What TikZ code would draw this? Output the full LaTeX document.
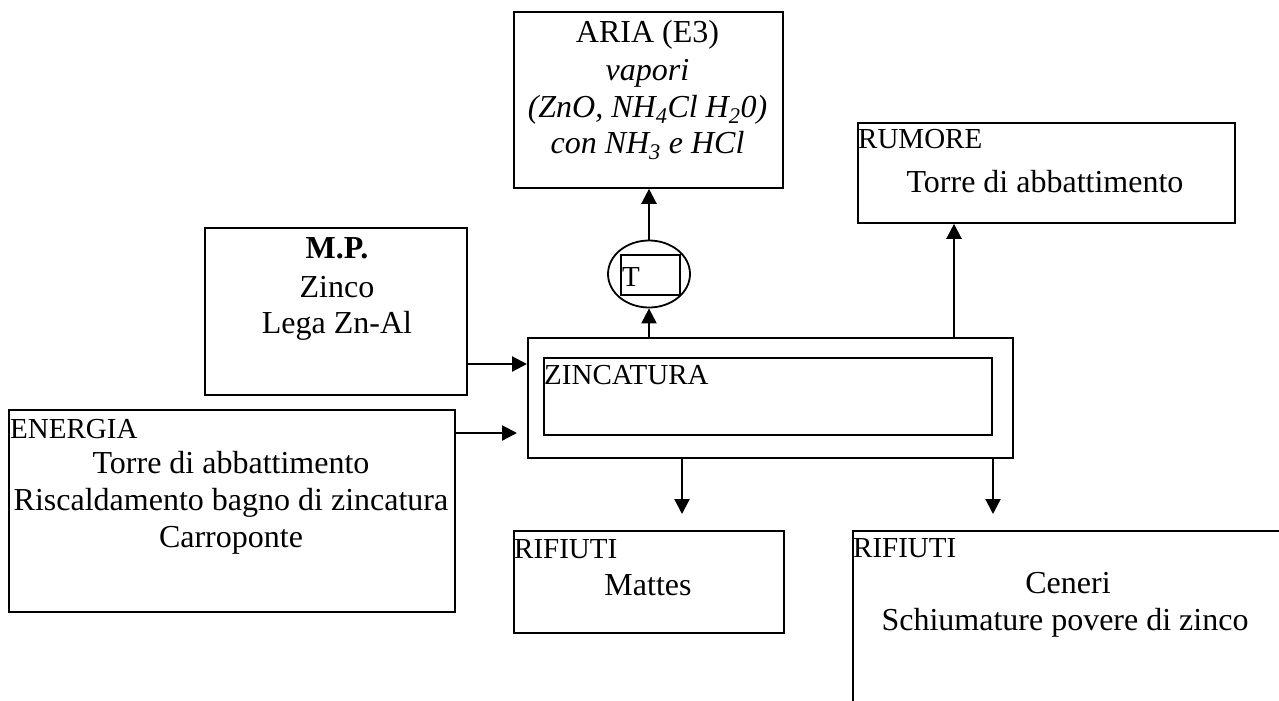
\documentclass[tikz,border=0pt]{standalone}
\usepackage{fontspec}
\setmainfont{Liberation Serif}
\usetikzlibrary{shapes.geometric,arrows.meta}
\newcommand\bodysize{\fontsize{32}{36.5}\selectfont}
\newcommand\headsize{\fontsize{29}{33}\selectfont}
\begin{document}
\begin{tikzpicture}[x=1pt,y=-1pt,
  frame/.style={draw,line width=1.8pt,inner sep=0pt,anchor=north west,rectangle},
  flow/.style={line width=2.2pt,-{Triangle[length=15pt,width=15pt]}},
  head/.style={inner sep=0pt,anchor=base west,font=\headsize},
  body/.style={inner sep=0pt,anchor=base,font=\bodysize},
]
\useasboundingbox (0,0) rectangle (1279,701);
\clip (0,0) rectangle (1279,701);

% boxes
\node[frame,minimum width=269pt,minimum height=176pt] (aria) at (513,11) {};
\node[frame,minimum width=262pt,minimum height=167pt] (mp) at (204,227) {};
\node[frame,minimum width=446pt,minimum height=202pt] (energia) at (8,409) {};
\node[frame,minimum width=485pt,minimum height=120pt] (zinc) at (527,337) {};
\node[frame,minimum width=448pt,minimum height=77pt] (zincin) at (543,357) {};
\node[frame,minimum width=377pt,minimum height=100pt] (rumore) at (857,122) {};
\node[frame,minimum width=270pt,minimum height=102pt] (mattes) at (513,530) {};
\node[frame,minimum width=448pt,minimum height=190pt] (ceneri) at (852,530) {};

% exhaust unit on the zinc bath
\node[draw,line width=1.8pt,ellipse,inner sep=0pt,minimum width=82pt,minimum height=67pt] (tank) at (649,274) {};
\node[draw,line width=1.8pt,rectangle,inner sep=0pt,minimum width=59pt,minimum height=40pt] (tbox) at (650.5,275) {};
\node[head] (tlabel) at (622,286) {T};

% texts
\node[body] (aria1) at (647.5,43) {ARIA (E3)};
\node[body] (aria2) at (647.5,81) {\itshape vapori};
\node[body] (aria3) at (647.5,117) {\itshape (ZnO, NH\textsubscript{4}Cl H\textsubscript{2}0)};
\node[body] (aria4) at (647.5,153) {\itshape con NH\textsubscript{3} e HCl};

\node[body] (mp1) at (337,258) {\bfseries M.P.};
\node[body] (mp2) at (337,297) {Zinco};
\node[body] (mp3) at (337,333) {Lega Zn-Al};

\node[head] (en0) at (10,438) {ENERGIA};
\node[body] (en1) at (231,473) {Torre di abbattimento};
\node[body] (en2) at (231,510) {Riscaldamento bagno di zincatura};
\node[body] (en3) at (231,547) {Carroponte};

\node[head] (zinclabel) at (544,384) {ZINCATURA};

\node[head] (ru0) at (858,148) {RUMORE};
\node[body] (ru1) at (1045,192) {Torre di abbattimento};

\node[head] (ma0) at (514,558) {RIFIUTI};
\node[body] (ma1) at (648,595) {Mattes};

\node[head] (ce0) at (853,557) {RIFIUTI};
\node[body] (ce1) at (1068,593) {Ceneri};
\node[body] (ce2) at (1065,630) {Schiumature povere di zinco};

% free arrow ends
\coordinate (enin) at (517,433);
\coordinate (down1) at (682,514);
\coordinate (down2) at (993,514);

% connectors
\draw[flow] (mp.east |- 0,364) -- (zinc.west |- 0,364);
\draw[flow] (energia.east |- enin) -- (enin);
\draw[flow] (zinc.north -| tank.south) -- (tank.south);
\draw[flow] (tank.north) -- (aria.south -| tank.north);
\draw[flow] (zinc.north -| 954,0) -- (rumore.south -| 954,0);
\draw[flow] (zinc.south -| down1) -- (down1);
\draw[flow] (zinc.south -| down2) -- (down2);
\end{tikzpicture}
\end{document}
